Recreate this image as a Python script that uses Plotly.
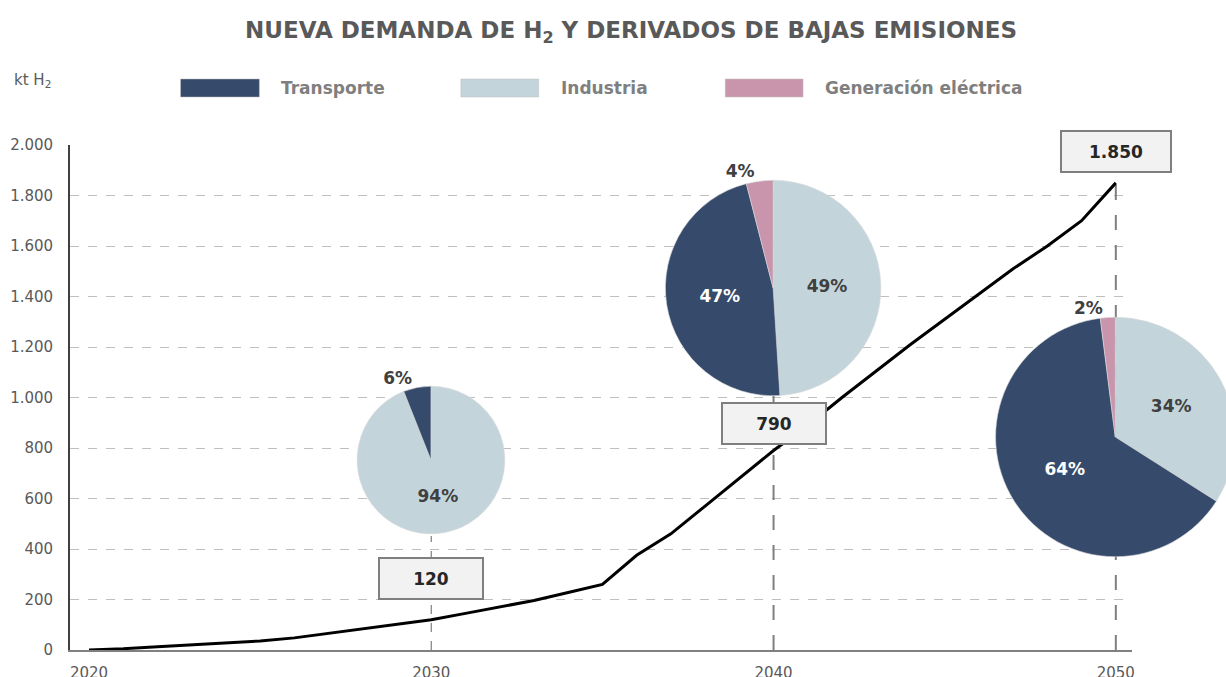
import plotly.graph_objects as go

# ---------------- data ----------------
years = list(range(2020, 2051))
demand = [0, 5, 13, 20, 28, 36, 48, 66, 84, 100, 120, 145, 170, 196, 228, 260,
          375, 460, 570, 680, 790, 890, 1000, 1105, 1210, 1310, 1410, 1510,
          1600, 1700, 1850]

pie_years = [2030, 2040, 2050]
categories = ["Transporte", "Industria", "Generación eléctrica"]
transporte_pct = [6, 47, 64]
industria_pct = [94, 49, 34]
generacion_pct = [0, 4, 2]

y_ticks = [0, 200, 400, 600, 800, 1000, 1200, 1400, 1600, 1800, 2000]
x_ticks = [2020, 2030, 2040, 2050]

colors = {"Transporte": "#364a6b", "Industria": "#c3d5db", "Generación eléctrica": "#c995ac"}

# the figure is slightly wider than the 1226 px window so the last pie is cut
# at the right edge, as in the reference
W, H = 1240, 677
FONT = "DejaVu Sans"
GRAY = "#595959"


def px(x):
    return x / W


def py(y):
    return 1 - y / H


fig = go.Figure()

# guide lines (under the pies)
guide_tops = {2030: 451, 2040: 1006, 2050: 1890}
guide_style = {2030: ("dash", 1.2), 2040: ("longdash", 2), 2050: ("longdash", 2)}
for yr in pie_years:
    d, w = guide_style[yr]
    fig.add_trace(go.Scatter(x=[yr, yr], y=[0, guide_tops[yr]], mode="lines",
                             line=dict(color="#7f7f7f", width=w, dash=d),
                             hoverinfo="skip", showlegend=False))

fig.add_trace(go.Scatter(x=years, y=demand, mode="lines",
                         line=dict(color="black", width=3),
                         showlegend=False))

# pies: (center x, center y, radius) in pixels
pie_geom = {2030: (432, 460, 74), 2040: (775, 288, 108), 2050: (1118, 437, 120)}
for i, yr in enumerate(pie_years):
    labs, vals = [], []
    for cat, arr in (("Industria", industria_pct),
                     ("Transporte", transporte_pct),
                     ("Generación eléctrica", generacion_pct)):
        if arr[i] > 0:
            labs.append(cat)
            vals.append(arr[i])
    cx, cy, r = pie_geom[yr]
    tpos = ["outside" if v < 10 else "inside" for v in vals]
    tcol = ["white" if l == "Transporte" else "#404040" for l in labs]
    tcol = [("#404040" if p == "outside" else c) for p, c in zip(tpos, tcol)]
    fig.add_trace(go.Pie(
        labels=labs, values=vals, sort=False, direction="clockwise",
        rotation=0, textinfo="percent", texttemplate="<b>%{percent:.0%}</b>",
        textposition=tpos,
        textfont=dict(family=FONT, size=17, color=tcol),
        insidetextorientation="horizontal",
        marker=dict(colors=[colors[l] for l in labs],
                    line=dict(color="#d9d9d9", width=0.6)),
        domain=dict(x=[px(cx - r), min(1, px(cx + r))], y=[py(cy + r), py(cy - r)]),
        showlegend=False, hoverinfo="label+percent"))

annotations = []
# value boxes
box_y = {2030: 285, 2040: 899, 2050: 1976}
box_w = {2030: 100, 2040: 100, 2050: 106}
for yr in pie_years:
    v = demand[years.index(yr)]
    annotations.append(dict(
        x=yr, y=box_y[yr], xref="x", yref="y",
        text="<b>" + f"{v:,}".replace(",", ".") + "</b>", showarrow=False,
        font=dict(family=FONT, size=17, color="#262626"),
        bgcolor="#f2f2f2", bordercolor="#7f7f7f", borderwidth=2,
        width=box_w[yr], height=37))

# title and unit
annotations.append(dict(x=px(633), y=py(32), xref="paper", yref="paper", yanchor="middle",
                        text="<b>NUEVA DEMANDA DE H<sub>2</sub> Y DERIVADOS DE BAJAS EMISIONES</b>",
                        showarrow=False, font=dict(family=FONT, size=23, color=GRAY)))
annotations.append(dict(x=px(12), y=py(80), xref="paper", yref="paper", xanchor="left",
                        yanchor="middle",
                        text="kt H<sub>2</sub>", showarrow=False,
                        font=dict(family=FONT, size=15, color=GRAY)))

# custom legend
shapes = []
leg_boxes = [(181, 260), (462, 540), (727, 805)]
for cat, (x0, x1) in zip(categories, leg_boxes):
    shapes.append(dict(type="rect", xref="paper", yref="paper",
                       x0=px(x0), x1=px(x1), y0=py(97), y1=py(79),
                       fillcolor=colors[cat], line=dict(color="#bfbfbf", width=0.5)))
    annotations.append(dict(x=px(x1 + 20), y=py(88), xref="paper", yref="paper",
                            xanchor="left", yanchor="middle",
                            text="<b>" + cat + "</b>", showarrow=False,
                            font=dict(family=FONT, size=17, color="#7f7f7f")))

fig.update_layout(
    width=W, height=H, autosize=False,
    margin=dict(l=0, r=0, t=0, b=0),
    paper_bgcolor="white", plot_bgcolor="white",
    separators=",.",
    shapes=shapes, annotations=annotations,
    xaxis=dict(domain=[px(70), px(1135)], range=[2019.44, 2050.48],
               tickvals=x_ticks, showgrid=False, zeroline=False,
               showline=True, linecolor="#808080", linewidth=2,
               ticks="", ticklabelstandoff=8, automargin=False,
               tickfont=dict(family=FONT, size=15, color=GRAY)),
    yaxis=dict(domain=[py(650), py(145)], range=[0, 2000],
               tickvals=y_ticks, tickformat=",d",
               showgrid=True, gridcolor="#bfbfbf", griddash="dash", gridwidth=1,
               zeroline=False, showline=True, linecolor="#404040", linewidth=1.5,
               ticks="", ticklabelstandoff=12, automargin=False,
               tickfont=dict(family=FONT, size=15, color=GRAY)),
)

fig.write_html("out.html", config={"displayModeBar": False},
               post_script="document.body.style.margin='0';"
                           "document.body.style.overflow='hidden';"
                           "document.documentElement.style.overflow='hidden';")
